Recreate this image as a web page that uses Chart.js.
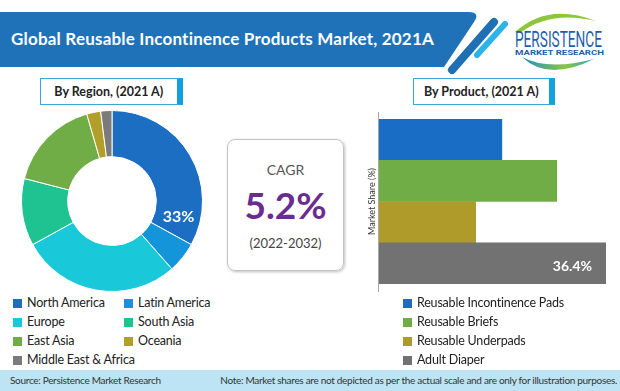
<!DOCTYPE html>
<html>
<head>
<meta charset="utf-8">
<script src="https://cdn.jsdelivr.net/npm/chart.js@4.4.0/dist/chart.umd.min.js"></script>
<style>
	body { margin: 0; width: 620px; height: 391px; background: #fff; overflow: hidden; position: relative; font-family: Lato, "Open Sans", sans-serif; color: #222; }
	.abs { position: absolute; }
	.title { left: 11px; top: 28px; color: #fff; font-weight: 700; font-size: 17px; letter-spacing: 0.2px; line-height: 22px; white-space: nowrap; }
	.tag { top: 78px; height: 25px; border: 1.5px solid #3aa6da; border-right: 6px solid #13a1de; background: #fff; font-weight: 700; font-size: 12.5px; line-height: 25px; text-align: center; }
	.cagr { left: 227px; top: 139px; width: 115px; height: 130px; border: 1px solid #c4c4c4; border-radius: 8px; box-shadow: 1px 1px 3px rgba(0,0,0,0.25); text-align: center; }
	.cagr div { position: absolute; left: 0; width: 100%; }
	.legend { font-size: 12.5px; letter-spacing: -0.2px; line-height: 19px; white-space: nowrap; }
	.legend .item { position: absolute; }
	.legend .sw { display: inline-block; width: 9px; height: 9px; margin-right: 5px; vertical-align: -0.5px; }
	.footer { left: 0; top: 370px; width: 620px; height: 21px; background: #bde4f4; font-size: 10px; letter-spacing: -0.3px; line-height: 21px; color: #333; }
</style>
</head>
<body>
<svg class="abs" style="left:0;top:0" width="620" height="80">
	<defs>
		<linearGradient id="sw" x1="0" x2="1" y1="0" y2="0">
			<stop offset="0" stop-color="#1f8fc8"/>
			<stop offset="0.6" stop-color="#8cc63e"/>
			<stop offset="1" stop-color="#2aa6c8"/>
		</linearGradient>
	</defs>
	<path d="M0,12 L468,12 Q481,12 474,22 L444,67 L0,67 Z" fill="#1f72b8"/>
	<line x1="494" y1="22" x2="452" y2="70" stroke="#1f6fb5" stroke-width="8" stroke-linecap="round"/>
	<line x1="505" y1="24" x2="477" y2="55" stroke="#2bb5e6" stroke-width="6" stroke-linecap="round"/>
	<path d="M515,32 Q548,2 596,21 Q550,10 520,33 Z" fill="#8cc63e"/>
	<text x="515" y="47" font-family="Roboto" font-size="22" fill="#1f5fa8" textLength="87" lengthAdjust="spacingAndGlyphs">PERSISTENCE</text>
	<text x="515" y="55" font-family="Roboto" font-weight="700" font-size="7" fill="#1f5fa8" textLength="89" lengthAdjust="spacingAndGlyphs">MARKET RESEARCH</text>
	<path d="M522,57 Q548,82 594,59 Q548,71 522,57 Z" fill="url(#sw)"/>
</svg>
<div class="abs title" id="title"></div>
<div class="abs tag" style="left:40px;width:135.5px">By Region, (2021 A)</div>
<div class="abs tag" style="left:413px;width:134.5px">By Product, (2021 A)</div>

<canvas id="donut" class="abs" style="left:21px;top:110px" width="182" height="182"></canvas>

<div class="abs cagr">
	<div style="top:20px;font-size:14px;color:#555;line-height:20px" id="cagrLabel"></div>
	<div style="top:42px;font-size:37px;font-weight:700;color:#6a2c91;line-height:46px" id="cagrValue"></div>
	<div style="top:93px;font-size:13px;color:#444;line-height:20px" id="cagrPeriod"></div>
</div>

<canvas id="bars" class="abs" style="left:360px;top:108px" width="256" height="186"></canvas>

<div class="abs legend" id="regionLegend" style="left:13px;top:293px"></div>
<div class="abs legend" id="productLegend" style="left:403px;top:293px"></div>

<div class="abs footer">
	<span style="position:absolute;left:10px">Source: Persistence Market Research</span>
	<span style="position:absolute;right:3px">Note: Market shares are not depicted as per the actual scale and are only for illustration purposes.</span>
</div>

<script>
const titleText = "Global Reusable Incontinence Products Market, 2021A";

const regionLabels = ["North America", "Latin America", "Europe", "South Asia", "East Asia", "Oceania", "Middle East & Africa"];
const regionShares = [33, 5.5, 28.5, 12, 16.5, 2.5, 2];
const regionColors = ["#1b6ec2", "#1595d9", "#19c9d9", "#1fc391", "#70ad47", "#b19f2a", "#7b7b7b"];

const productLabels = ["Reusable Incontinence Pads", "Reusable Briefs", "Reusable Underpads", "Adult Diaper"];
const productShares = [19.7, 28.5, 15.5, 36.4];
const productColors = ["#1a6dc4", "#70ad47", "#ae9b2a", "#727272"];

const cagrLabel = "CAGR";
const cagrValue = "5.2%";
const cagrPeriod = "(2022-2032)";

document.getElementById("title").textContent = titleText;
document.getElementById("cagrLabel").textContent = cagrLabel;
document.getElementById("cagrValue").textContent = cagrValue;
document.getElementById("cagrPeriod").textContent = cagrPeriod;

// legends: region one is two columns, product one is a single column
const buildLegend = (id, labels, colors, colWidth, perRow) => {
	const box = document.getElementById(id);
	labels.forEach((label, i) => {
		const item = document.createElement("div");
		item.className = "item";
		item.style.left = (i % perRow) * colWidth + "px";
		item.style.top = Math.floor(i / perRow) * 19 + "px";
		item.innerHTML = `<span class="sw" style="background:${colors[i]}"></span>`;
		item.appendChild(document.createTextNode(label));
		box.appendChild(item);
	});
};
buildLegend("regionLegend", regionLabels, regionColors, 111, 2);
buildLegend("productLegend", productLabels, productColors, 0, 1);

const donutLabel = {
	id: "donutLabel",
	afterDatasetsDraw(chart) {
		const arc = chart.getDatasetMeta(0).data[0];
		const p = arc.getProps(["x", "y", "startAngle", "endAngle", "innerRadius", "outerRadius"], true);
		const a = p.startAngle + 0.87 * (p.endAngle - p.startAngle);
		const r = (p.innerRadius + p.outerRadius) / 2 + 1;
		const ctx = chart.ctx;
		ctx.save();
		ctx.fillStyle = "#fff";
		ctx.font = "700 16px Lato";
		ctx.textAlign = "center";
		ctx.textBaseline = "middle";
		ctx.fillText(regionShares[0] + "%", p.x + r * Math.cos(a), p.y + r * Math.sin(a));
		ctx.restore();
	},
};

new Chart(document.getElementById("donut"), {
	type: "doughnut",
	data: {
		labels: regionLabels,
		datasets: [{
			data: regionShares,
			backgroundColor: regionColors,
			borderColor: "#fff",
			borderWidth: 1,
		}],
	},
	options: {
		responsive: false,
		animation: false,
		cutout: "49%",
		layout: { padding: 0 },
		plugins: { legend: { display: false }, tooltip: { enabled: false } },
	},
	plugins: [donutLabel],
});

const barExtras = {
	id: "barExtras",
	afterDraw(chart) {
		const ctx = chart.ctx;
		const area = chart.chartArea;
		const x0 = Math.round(chart.scales.x.getPixelForValue(0)) - 0.5;
		ctx.save();
		ctx.strokeStyle = "#a6a6a6";
		ctx.lineWidth = 1;
		ctx.beginPath();
		ctx.moveTo(x0, area.top - 7);
		ctx.lineTo(x0, area.bottom + 8);
		ctx.stroke();

		ctx.translate(12, (area.top + area.bottom) / 2);
		ctx.rotate(-Math.PI / 2);
		ctx.fillStyle = "#333";
		ctx.font = "9px Lato";
		ctx.textAlign = "center";
		ctx.textBaseline = "middle";
		ctx.fillText("Market Share (%)", 0, 0);
		ctx.restore();

		const last = productShares.length - 1;
		const bar = chart.getDatasetMeta(0).data[last];
		ctx.save();
		ctx.fillStyle = "#fff";
		ctx.font = "700 14px Lato";
		ctx.textAlign = "right";
		ctx.textBaseline = "middle";
		ctx.fillText(productShares[last] + "%", bar.x - 14, bar.y + 3);
		ctx.restore();
	},
};

new Chart(document.getElementById("bars"), {
	type: "bar",
	data: {
		labels: productLabels,
		datasets: [{
			data: productShares,
			backgroundColor: productColors,
			borderWidth: 0,
			categoryPercentage: 1,
			barPercentage: 1,
		}],
	},
	options: {
		indexAxis: "y",
		responsive: false,
		animation: false,
		layout: { padding: { left: 19, top: 11, right: 10, bottom: 10 } },
		scales: {
			x: { display: false, min: 0, max: 36.4 },
			y: { display: false },
		},
		plugins: { legend: { display: false }, tooltip: { enabled: false } },
	},
	plugins: [barExtras],
});
</script>
</body>
</html>
